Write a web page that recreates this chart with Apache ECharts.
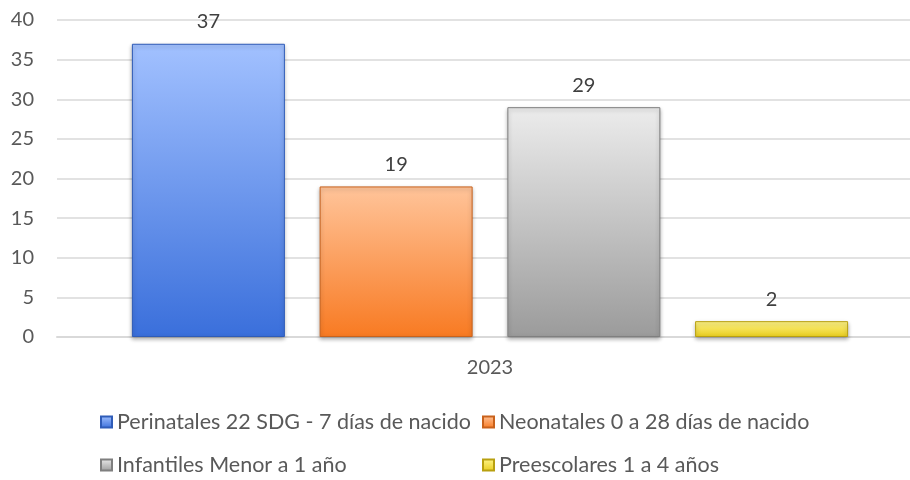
<!DOCTYPE html>
<html><head><meta charset="utf-8">
<script src="https://cdn.jsdelivr.net/npm/echarts@6/dist/echarts.min.js"></script>
<style>html,body{margin:0;padding:0;background:#fff}#c{width:910px;height:480px}</style>
</head><body><div id="c"></div>
<script>
const categories = ['2023'];
const seriesNames = ['Perinatales 22 SDG - 7 días de nacido', 'Neonatales 0 a 28 días de nacido', 'Infantiles Menor a 1 año', 'Preescolares 1 a 4 años'];
const perinatales = [37];
const neonatales = [19];
const infantiles = [29];
const preescolares = [2];
const values = [perinatales, neonatales, infantiles, preescolares];
const gradients = [
  ['#a2c1ff', '#3a6fdb', '#2f5cb8'],
  ['#ffc49a', '#f87a22', '#c9621c'],
  ['#ececec', '#9b9b9b', '#7f7f7f'],
  ['#fff58a', '#e8cc1c', '#b8a010']
];
function grad(g){
  return new echarts.graphic.LinearGradient(0,0,0,1,[{offset:0,color:g[0]},{offset:1,color:g[1]}]);
}
const font = 'Lato, "Open Sans", sans-serif';
const chart = echarts.init(document.getElementById('c'), null, {renderer:'canvas'});
const series = seriesNames.map((n,i)=>({
  name:n, type:'bar', data: values[i], barWidth:153, barGap:'22.7%',
  itemStyle:{color:grad(gradients[i]), borderColor:gradients[i][2], borderWidth:1,
    shadowBlur:4, shadowColor:'rgba(0,0,0,0.3)', shadowOffsetY:2},
  label:{show:true, position:'top', distance:12, color:'#404040', fontSize:20, fontFamily:font}
}));
const legendPos = [[100, 411], [482, 411], [100, 454], [482, 454]];
const legends = seriesNames.map((n,i)=>({
  data:[n], left:legendPos[i][0], top:legendPos[i][1], padding:0,
  itemWidth:11, itemHeight:11, icon:'rect',
  textStyle:{color:'#595959', fontSize:21.5, fontFamily:font, lineHeight:22}
}));
chart.setOption({
  animation:false,
  grid:{left:57, width:866, top:20, height:317, outerBoundsMode:'none', containLabel:false},
  legend: legends,
  xAxis:{type:'category', data:categories,
    axisLine:{lineStyle:{color:'#d9d9d9', width:2}}, axisTick:{show:false},
    axisLabel:{color:'#595959', fontSize:20, fontFamily:font, margin:21}},
  yAxis:{type:'value', min:0, max:40, interval:5,
    axisLine:{show:false}, axisTick:{show:false},
    splitLine:{lineStyle:{color:'#d9d9d9', width:1.5}},
    axisLabel:{color:'#595959', fontSize:20, fontFamily:font, margin:23}},
  series: series
});
</script></body></html>
